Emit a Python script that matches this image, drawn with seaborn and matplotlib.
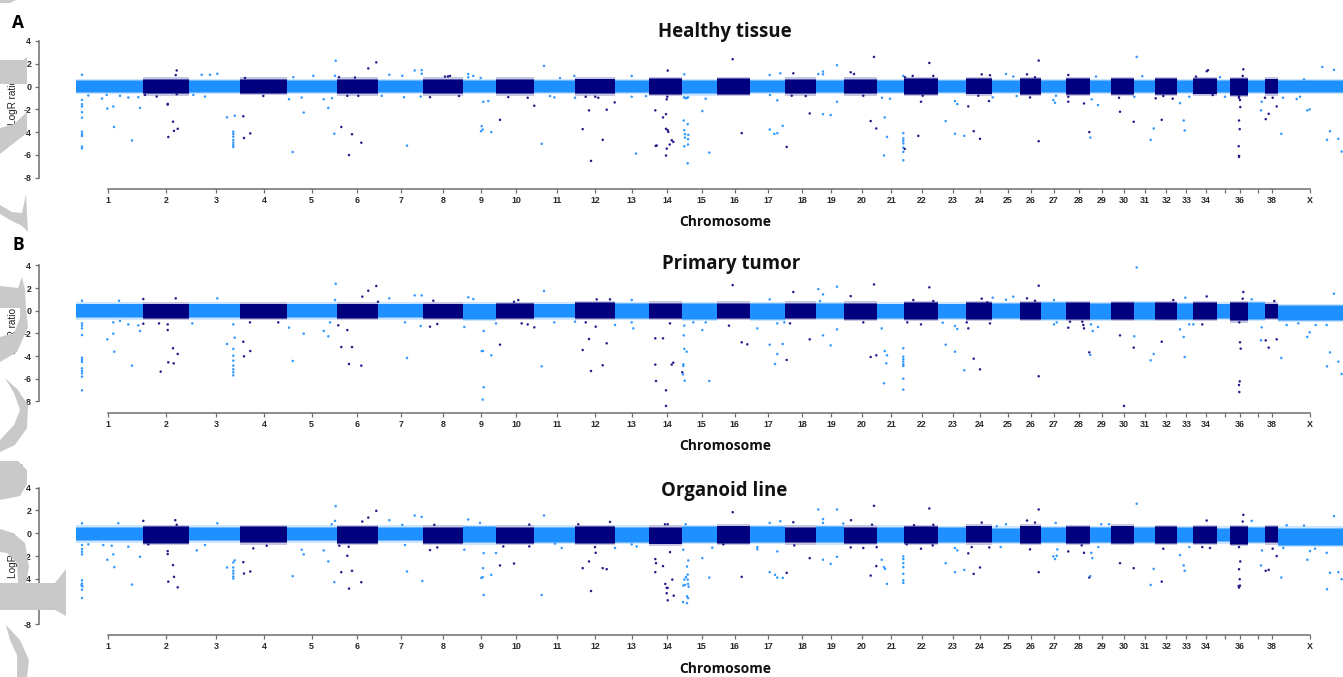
import numpy as np
import pandas as pd
import matplotlib
matplotlib.use("Agg")
import matplotlib.pyplot as plt
from matplotlib.patches import Polygon
import seaborn as sns

W, H = 1343, 677
CHROMS = [str(i) for i in range(1, 39)] + ["X"]
# chromosome boundaries along the genome axis
CHR_EDGES = [75.5,142.7,189.3,239.7,287.3,336.7,378.3,422.7,463.3,496.3,534.3,575,614.7,648.7,682.3,717.3,749.7,784.7,815.7,844.3,876.7,903.6,937.7,966,992,1020,1041.3,1066.3,1089.7,1111.3,1133.7,1155.3,1177,1193.3,1216.7,1230.3,1247.7,1264.7,1277.7,1343]
TICK_POS = [108,166,216,264,311.5,357,401,443,481,516.3,557,595,631.6,667,701.7,734.7,768,802,831.3,861.7,891.3,921.7,953,980,1007.7,1031,1054,1079,1102,1124,1144.7,1166.3,1186.3,1205.7,1224.7,1240,1257.7,1272,1309.7]
TICK_LABELS = [("" if c in ("35","37") else c) for c in CHROMS]

A_top = [.47,.6,.45,.6,.45,.6,.45,.6,.45,.6,.45,.62,.47,.65,.45,.65,.45,.6,.47,.6,.45,.65,.45,.65,.48,.65,.5,.65,.47,.65,.47,.65,.47,.65,.45,.65,.47,.62,.47]
A_bot = [-.47,-.6,-.45,-.55,-.45,-.6,-.45,-.6,-.45,-.6,-.45,-.6,-.47,-.65,-.6,-.65,-.47,-.6,-.47,-.6,-.47,-.65,-.45,-.62,-.47,-.65,-.5,-.65,-.47,-.65,-.47,-.65,-.47,-.62,-.47,-.75,-.47,-.6,-.5]
B_top = [.55,.55,.55,.55,.55,.55,.55,.55,.55,.6,.55,.65,.6,.62,.6,.62,.6,.62,.6,.62,.55,.65,.55,.65,.6,.65,.65,.65,.6,.65,.65,.7,.6,.65,.55,.65,.65,.55,.4]
B_bot = [-.6,-.65,-.6,-.65,-.6,-.65,-.6,-.65,-.7,-.65,-.6,-.65,-.65,-.65,-.75,-.65,-.7,-.65,-.65,-.7,-.65,-.7,-.65,-.75,-.65,-.7,-.7,-.75,-.7,-.7,-.7,-.7,-.7,-.7,-.65,-.85,-.7,-.65,-.8]
C_top = [.5,.55,.5,.55,.5,.55,.5,.5,.55,.5,.5,.55,.5,.5,.55,.6,.55,.5,.55,.5,.5,.55,.45,.6,.4,.6,.45,.55,.45,.6,.45,.55,.45,.55,.4,.55,.45,.55,.4]
C_bot = [-.62,-.85,-.62,-.8,-.62,-.85,-.62,-.85,-.8,-.85,-.75,-.85,-.75,-.9,-.75,-.85,-.75,-.8,-.8,-.85,-.75,-.85,-.75,-.8,-.75,-.85,-.75,-.85,-.75,-.85,-.75,-.85,-.75,-.85,-.7,-.95,-.75,-.8,-1.0]

A_points = [(82,1.03),(82,-1.18),(82,-1.56),(82,-1.76),(82,-2.26),(82,-2.74),(82,-3.97),(82,-4.18),(82,-4.35),(82,-5.29),(82,-5.44),
(107.3,-1.94),(113.3,-1.76),(114,-3.56),(132,-4.74),(140,-1.88),(102,-1.06),(106.7,-.74),(120,-.82),(128.3,-.97),(138.3,-.94),(88.3,-.79),
(167.7,-1.53),(167.7,-1.59),(173,-3.09),(174,-3.9),(177.7,-3.72),(168.3,-4.44),(176.7,1.41),(175.7,1),(156.7,-.88),(176.7,-.68),(145,-.74),
(227,-2.71),(234.7,-2.56),(233.3,-3.97),(233.3,-4.18),(233.3,-4.41),(233.3,-4.71),(233.3,-4.94),(233.3,-5.15),(233.3,-5.32),(201.7,1.03),(210,1.03),(217.3,1.12),(193.3,-.74),(205,-.88),
(243.3,-2.62),(244,-4.53),(250.3,-4.12),(263.3,-.83),(245,.75),
(292.7,-5.76),(303.7,-2.29),(328.3,-1.88),(323.7,-1.12),(332,-1.03),(289,-1.12),(334.3,-4.15),(335.7,2.26),(335,.94),(313.3,.94),(293.3,.82),(301.7,-.97),
(341.3,-3.56),(352,-4.2),(361.3,-4.94),(349,-6.03),(368.3,1.59),(376.3,2.12),(339,.82),(355,.79),(347.3,-.82),(358.3,-.82),
(407,-5.2),(414.7,1.41),(421.7,1.44),(421.7,1.12),(389.3,1.03),(402.3,.94),(404,-.94),(420.7,-.88),(381.7,-.82),(430,-.94),(448,.88),
(445,.87),(450,.93),(459,-.84),(468.3,1.1),(468.3,.81),(473.3,.93),(480.7,.75),(481.7,-3.49),(482.7,-3.78),(481,-3.93),(491.3,-4.01),(483.3,-1.34),(488.3,-1.28),
(500,-2.93),(508.3,-.93),(527.7,-.99),(534.3,-1.69),(544,1.81),(541.7,-5.04),(554.3,-.96),(550,-.84),(574.3,.93),(575,-.99),(560,.75),
(582.7,-3.75),(589,-2.1),(591,-6.54),(602.7,-4.69),(606.7,-2.04),(595.3,-.9),(598.3,-.99),(585.7,-.9),(614.7,-1.4),(636,-5.9),(631.7,.93),(631.7,-.9),(646,-.84),
(667.7,1.4),(655.3,-2.1),(663,-2.72),(666,-2.43),(666,-3.72),(667.7,-3.84),(668.3,-3.99),(655.7,-5.22),(656.7,-5.19),(666.7,-5.46),(669.7,-5.1),(666,-6.07),(671.7,-4.72),(673.3,-4.87),(666.7,-1.13),(667.3,-.9),
(684.3,1.07),(683.7,-2.99),(687.7,-3.31),(684.3,-3.84),(685,-4.19),(688.3,-4.25),(685,-4.49),(688,-4.63),(688,-5.1),(684.3,-5.25),(687.7,-6.75),(702.3,-2.16),(705.7,-1.07),(709.3,-5.81),(684,-.95),(685,-1.0),(686,-1.04),(687,-1.0),(688,-.95),
(732.7,2.4),(741.7,-4.1),(769.7,1.01),(780.3,1.16),(769.7,-3.78),(774.3,-4.16),(777.3,-4.1),(782.7,-3.46),(777.3,-1.22),(770,-.75),
(786.7,-5.31),(793.3,1.16),(809.7,-2.37),(791.7,-.81),(805.7,-.84),(818.3,1.1),(823,1.31),(823,1.07),(823,-2.43),(830.7,-2.51),(837,1.87),(837,-1.34),
(850.7,1.25),(854,1.1),(874,2.6),(870.7,-3.04),(876.3,-3.69),(863.3,-.81),(884.7,-2.72),(887,-4.43),(884,-6.07),(903.3,.93),(882,-.99),(890,-1.07),
(903.3,-4.1),(903.3,-4.57),(903.3,-4.78),(903.3,-5.01),(903.3,-5.37),(903.3,-5.75),(903.3,-6.49),(904.7,-5.49),
(912.7,.93),(905,.81),(929.3,2.07),(918.3,-4.34),(921,-1.34),(922.7,-.81),(933.3,.93),(945.7,-3.04),(955,-4.16),(964.3,-4.34),(955,-1.28),(957.3,-1.54),
(968.3,-1.75),(973.7,-3.93),(980,-4.6),(981.7,1.07),(990,.99),(978.3,-.81),(989,-1.28),(992.7,-.96),(1006,1.1),(1013.3,.87),(1016.7,-.84),
(1038.7,2.28),(1038.7,-4.81),(1027,1.07),(1030,-.96),(1035,.81),(1053.3,-1.19),(1055,-1.43),(1056,-.81),(1068.3,1.01),(1068.3,-.9),(1068.3,-1.34),(1084,-1.49),
(1089.3,-4.01),(1090.3,-4.49),(1091.7,-1.13),(1098,-1.63),(1096,.87),(1120,-2.22),(1119,-.99),(1133.7,-3.1),(1136.7,2.6),(1142.3,.9),(1150.7,-4.69),(1153.7,-3.69),(1155.7,-1.04),(1134.3,-.9),
(1161.7,-2.93),(1172.7,-1.07),(1163.3,-.84),(1183.7,-2.99),(1184.7,-3.87),(1180,-1.46),(1189.3,-.9),(1206.7,1.34),(1208,1.43),(1196,.87),(1212.7,-.75),(1220,.81),(1225,-.9),
(1243.3,1.51),(1242.7,.93),(1240,-1.19),(1240.3,-1.81),(1239,-2.99),(1239.7,-3.75),(1238.7,-5.25),(1239,-6.1),(1239,-6.19),(1239,-.85),(1239,-1.0),
(1261.7,-1.34),(1261,-2.1),(1265,-.99),(1265.7,-2.87),(1268.7,-2.4),(1272.7,-.99),(1276.7,-1.75),(1281.3,-4.16),(1283,-.99),(1296.7,-1.1),(1300,-.9),(1307.3,-2.1),(1309.7,-2.01),(1322.3,1.72),(1334,1.46),(1327,-4.69),(1330,-3.93),(1338.3,-4.6),(1341.7,-5.72),(1304,.63)]

B_points = [(82,.88),(82,-1.12),(82,-1.32),(82,-1.56),(82,-2.15),(82,-4.15),(82,-4.35),(82,-4.53),(82,-5.09),(82,-5.32),(82,-5.53),(82,-5.82),(82,-7.03),
(107.3,-2.53),(113.3,-2.03),(114.3,-3.62),(132,-4.85),(140,-1.79),(138.3,-1.29),(128.3,-1.21),(143.3,-1.15),(119,.88),(143.3,1.03),(113.3,-1.03),(120,-.91),
(167.7,-1.21),(167.7,-1.71),(159,-1.12),(173,-3.32),(177.7,-3.82),(168.3,-4.56),(173.7,-4.65),(160.7,-5.38),(175.7,1.09),
(227,-2.94),(234.7,-2.38),(217.3,1.09),(192.3,-1.12),(233.3,-1.21),(233.3,-3.38),(233.3,-3.97),(233.3,-4.41),(233.3,-4.85),(233.3,-5.18),(233.3,-5.44),(233.3,-5.71),
(243.3,-2.74),(250.3,-3.56),(244,-4.03),(278.3,-1.03),(250,-1.03),
(292.7,-4.44),(303.7,-2.03),(323.7,-1.79),(328.3,-2.26),(289,-1.5),(335.7,2.38),(335,.94),(330,-1.03),
(341.3,-3.21),(352,-3.21),(349,-4.71),(361.3,-4.85),(347.3,-1.71),(338.3,-1.29),(362.3,1.24),(368.3,1.76),(376.3,2.18),(378,.79),
(407,-4.18),(414.7,1.35),(421.7,1.35),(389.3,1.09),(420.7,-1.35),(405,-1.03),(430,-1.41),(437.3,-1.18),(433.3,.88),
(468.3,1.18),(473.3,1.03),(464.3,-1.44),(483.7,-1.79),(481.7,-3.56),(483,-3.56),(491.3,-3.94),(483.7,-6.76),(482.7,-7.85),(496,-1.12),
(500,-3.0),(518.3,.94),(514,.79),(521.7,-1.12),(527.7,-1.21),(534.3,-1.47),(544,1.74),(541.7,-4.91),(554.3,-1.03),(575,-.97),
(582.7,-3.47),(589,-2.5),(595.7,-1.41),(591,-5.32),(602.7,-4.82),(606.7,-2.88),(596.7,1.0),(610,1.0),(615,-1.26),(585.7,-1.03),(631.7,.94),(631.7,-1.03),(633.3,-1.56),
(655.3,-2.44),(663,-2.44),(655.3,-4.76),(656,-6.21),(666,-7.03),(666,-8.41),(671.7,-4.76),(673.3,-4.59),(670,-1.12),
(683.7,-2.18),(684.3,-3.38),(686.7,-3.62),(683.3,-4.74),(683.3,-4.88),(682.3,-5.44),(683,-5.62),(684.7,-6.18),(709.3,-6.21),(702.3,-1.71),(705.7,-1.03),(693.3,-1.03),(684.3,-1.32),
(732.7,2.26),(741.7,-2.79),(747.3,-2.97),(729,-1.32),(769.7,1.0),(757.3,-1.56),(769.7,-3.0),(777.3,-3.82),(775,-4.71),(782.7,-2.94),(777.3,-1.12),(784.3,-1.03),
(786.7,-4.35),(793.3,1.65),(809.7,-2.53),(790,-1.12),(818.3,1.91),(823,1.44),(820,.85),(823,-2.18),(830.7,-3.06),(837,2.12),(837,-1.65),
(850.7,1.29),(874,2.32),(870.7,-4.09),(876.3,-3.94),(863.3,-1.03),(881.7,-1.56),(884.7,-3.56),(887,-3.94),(886.3,-4.65),(884,-6.41),
(903.3,-3.32),(903.3,-4.06),(903.3,-4.29),(903.3,-4.5),(903.3,-4.74),(903.3,-4.88),(903.3,-6.0),(903.3,-6.97),
(929.3,2.06),(907.3,-1.03),(921,-1.21),(913.3,.94),(933.3,.85),(945.7,-3.0),(955,-3.62),(964.3,-5.26),(957.3,-1.62),(942.7,-1.06),(955,-1.35),
(968.3,-1.56),(973.7,-4.24),(980,-5.18),(981.7,1.06),(990,-1.12),(966.7,-1.03),(987.3,.74),(992.7,1.15),(1006,.97),(1013.3,1.24),
(1038.7,2.21),(1038.7,-5.79),(1027,1.09),(1035,.88),(1054,.94),(1054,-1.21),(1056.7,-1.03),(1068.3,-1.5),(1084,-1.56),(1082.3,-.97),(1070,-.97),(1083.3,-1.26),
(1089.3,-3.68),(1090.3,-3.91),(1092.7,-1.79),(1098,-1.44),(1091,-1.21),(1120,-2.18),(1124,-8.41),(1133.7,-3.26),(1134.3,-2.26),(1136.7,3.82),(1150.7,-4.38),(1153.7,-3.82),
(1161.7,-2.74),(1173.3,.94),(1183.7,-2.32),(1184.7,-4.09),(1180,-1.65),(1185.3,1.15),(1189.3,-1.21),(1193.3,-1.21),(1206.7,1.26),(1202.3,-1.21),
(1243.3,1.65),(1242.7,1.06),(1240,-2.79),(1240.7,-3.35),(1239.7,-6.24),(1239,-6.56),(1239.3,-7.18),(1239.3,-1.03),(1251.7,1.0),(1261.7,-1.47),(1261,-2.62),(1265.7,-2.62),
(1268.7,-3.26),(1276.7,-2.53),(1274.3,.85),(1281.3,-4.18),(1286.7,-1.26),(1307.3,-2.32),(1309.7,-1.91),(1315.7,-1.26),(1327,-4.91),(1330,-3.68),(1338.3,-4.5),(1341.7,-5.59),(1334,1.5),(1326.7,-1.26),(1298.3,-1.12)]

C_points = [(82,.88),(82,-1.03),(82,-1.38),(82,-1.62),(82,-1.85),(82,-4.12),(82,-4.41),(81.5,-4.56),(82.5,-4.65),(82,-4.94),(82,-5.68),
(107.3,-2.32),(113.3,-1.85),(114.3,-2.97),(132,-4.5),(140,-2.06),(118.3,.88),(143.3,1.09),(128.3,-1.18),(103.3,-1.03),(111.7,-1.09),(88.3,-.97),
(167.7,-1.56),(167.7,-1.82),(173,-2.79),(174,-3.82),(168.3,-4.24),(177.7,-4.74),(175.3,1.15),(176.7,.74),(148.3,-.98),
(227,-3.0),(234.7,-2.38),(233.3,-2.56),(233.3,-3.0),(233.3,-3.29),(233.3,-3.53),(233.3,-3.79),(233.3,-3.97),(217.3,.88),(196.7,-1.5),(205,-1.03),
(243.3,-2.53),(244,-3.53),(250.3,-3.35),(253.3,-1.32),(266.7,-1.09),
(292.7,-3.76),(303.7,-1.85),(301.7,-1.44),(323.7,-1.5),(328.3,-2.47),(334.3,-4.29),(335.7,2.38),(335,1.09),(331.7,.79),
(341.3,-3.41),(352,-3.29),(361.3,-4.29),(349,-4.85),(347.3,-1.97),(348.7,-1.18),(339.3,-1.09),(362.3,1.03),(368.3,1.38),(376.3,1.97),
(407,-3.35),(422.3,-4.18),(414.7,1.56),(421.7,1.44),(389.3,1.15),(402.3,.74),(405,-1.03),(430,-1.47),(437.3,-1.24),(434.3,.74),
(468.3,1.21),(464.3,-1.44),(480,.91),(483.7,-1.74),(483,-3.06),(482.7,-3.85),(481.3,-3.91),(491.3,-3.65),(483.7,-5.41),(496,-1.74),
(500,-2.82),(514,-2.65),(503.3,-1.15),(529.3,-1.15),(529.3,.76),(544,1.56),(541.7,-5.41),(561.7,-1.29),(555,-.91),
(578.3,.79),(582.7,-3.06),(589,-2.47),(595.7,-1.71),(591,-5.06),(602.7,-3.06),(606.7,-3.15),(610,1.0),(615,-1.29),(595,-1.21),(631.7,-.97),(636.7,-1.15),
(655.3,-2.26),(656,-2.62),(655.3,-3.41),(663,-2.88),(665.3,-4.44),(666.7,-4.79),(667.7,-4.79),(666.7,-5.26),(667.7,-5.88),(672.3,-4.06),(673.7,-5.47),(670,-1.65),(665,.79),(667.7,.79),
(688.3,-2.38),(687,-2.91),(687.7,-3.62),(686,-3.85),(684.3,-4.06),(687.7,-4.06),(683.3,-4.59),(685,-4.53),(688,-4.44),(688.7,-4.68),(687,-5.53),(688,-5.68),(683,-6.03),(687,-6.12),(702.3,-2.18),(709.3,-3.88),(683.3,-1.44),(685.7,.79),(712.3,-1.26),
(732.7,1.85),(741.7,-3.82),(723.3,-.97),(769.7,.91),(757.3,-1.21),(757.3,-1.41),(769.7,-3.41),(775,-3.65),(777.3,-3.88),(782.7,-3.91),(777.3,-1.59),(780.3,1.06),
(786.7,-3.47),(793.3,.97),(809.7,-2.18),(794.3,-1.06),(818.3,2.09),(823,1.24),(823,.91),(823,-2.32),(830.7,-2.68),(837,2.09),(837,-2.06),(843.3,.85),
(851,1.15),(874,2.41),(872,.76),(870.7,-3.71),(876.3,-2.88),(850.7,-1.24),(863.3,-1.29),(876.7,-1.21),(881.7,-2.32),(884,-2.97),(885,-3.12),(887,-4.44),
(903.3,-2.03),(903.3,-2.26),(903.3,-2.62),(903.3,-2.97),(903.3,-3.56),(903.3,-4.12),(903.3,-4.35),
(929.3,2.18),(933.3,.74),(914,.71),(921,-1.35),(932.7,-1.06),(906.7,-.97),(945.7,-2.62),(955,-3.41),(964.3,-3.21),(957.3,-1.5),(955,-1.29),
(968.3,-1.76),(971.7,-1.21),(980,-3.0),(973.7,-3.56),(981.7,.94),(989.3,-1.24),(1000.7,-1.21),(1006,.79),(996.7,.62),
(1038.7,2.09),(1038.7,-3.41),(1027,1.12),(1035,.94),(1030,-1.41),(1055.7,.91),(1053.3,-2.03),(1055,-2.26),(1056.7,-1.97),(1057.3,-1.41),
(1068.3,-1.59),(1084,-1.71),(1081.7,-1.06),(1089.3,-3.88),(1090.3,-3.76),(1091.3,-1.71),(1092.3,-2.18),(1101.3,.79),(1098.3,-1.21),(1109,.79),
(1120,-2.62),(1133.7,-3.06),(1136.7,2.59),(1150.7,-4.53),(1153.7,-3.12),(1161.7,-4.24),(1163.3,-1.35),
(1183.7,-2.82),(1184.7,-3.29),(1180,-1.91),(1189.3,-1.21),(1206.7,1.12),(1202.3,-1.21),(1210,-1.29),
(1243.3,1.62),(1242.7,1.03),(1251.7,1.09),(1240.3,-2.47),(1239,-3.15),(1239.7,-4.03),(1238.7,-4.62),(1240,-4.59),(1239,-4.76),(1239,-1.21),
(1261,-2.82),(1262,-1.5),(1265.7,-3.29),(1268.7,-3.21),(1272.7,-1.35),(1276.7,-2.0),(1281.3,-3.88),(1286.7,.71),(1304,.68),(1307.3,-2.32),(1310,-1.56),(1326.7,-1.71),(1330,-3.47),(1327,-4.91),(1338.3,-3.41),(1341.7,-4.03),(1334,1.5),(1315,-1.35),(1283.3,-1.29)]

TITLES = ["Healthy tissue", "Primary tumor", "Organoid line"]
PANEL_LETTERS = ["A", "B", "C"]

LIGHT, DARK = "#1e90ff", "#00007f"
sns.set_theme(style="white")
plt.rcParams["font.family"] = ["Liberation Sans", "DejaVu Sans"]

fig = plt.figure(figsize=(W / 100, H / 100), dpi=100, facecolor="white")


def px_text(x, y, s, **kw):
    fig.text(x / W, 1 - y / H, s, ha=kw.pop("ha", "center"), va="center", **kw)


layout = [  # top px (y=4), zero px, axis-line px
    (41.0, 86.5, 189.0),
    (265.4, 310.7, 412.7),
    (487.7, 533.3, 635.0),
]
panels = [(A_points, A_top, A_bot), (B_points, B_top, B_bot), (C_points, C_top, C_bot)]
title_xy = [(725, 32), (731, 264), (724, 491)]
label_y = [222, 446, 669]
letter_y = [23, 245, 472]
ylab_y = [102, 331, 555]
edges = np.array(CHR_EDGES)

for i, ((pts, top, bot), (ytop, y0, ybot)) in enumerate(zip(panels, layout)):
    scale = (y0 - ytop) / 4
    ax = fig.add_axes([0, 1 - ybot / H, 1, (ybot - ytop) / H])
    ax.patch.set_alpha(0)
    ax.set_xlim(0, W)
    ax.set_ylim((y0 - ybot) / scale, 4)
    for k in range(len(CHROMS)):
        col = DARK if k % 2 else LIGHT
        xs = edges[k:k + 2]
        ax.fill_between(xs, top[k] + .2, bot[k] - .2, color=col, alpha=.22, lw=0, zorder=1)
        ax.fill_between(xs, top[k] + .08, bot[k] - .08, color=col, alpha=.55, lw=0, zorder=1.5)
        ax.fill_between(xs, top[k], bot[k], color=col, lw=0, zorder=2)
    df = pd.DataFrame(pts, columns=["pos", "logr"])
    df["chrom"] = np.clip(np.searchsorted(edges, df["pos"]) - 1, 0, len(CHROMS) - 1)
    df["shade"] = np.where(df["chrom"] % 2 == 1, "dark", "light")
    sns.scatterplot(data=df, x="pos", y="logr", hue="shade",
                    palette={"light": "#2f98ff", "dark": "#241a8a"},
                    s=3.2, linewidth=0, legend=False, ax=ax, zorder=3, clip_on=True)
    ax.set_xlabel("")
    ax.set_ylabel("")
    for s in ("top", "right"):
        ax.spines[s].set_visible(False)
    ax.spines["left"].set_position(("data", 39))
    ax.spines["left"].set_bounds(-8, 4)
    ax.spines["bottom"].set_bounds(TICK_POS[0], TICK_POS[-1])
    for s in ("left", "bottom"):
        ax.spines[s].set_color("#6e6e6e")
        ax.spines[s].set_linewidth(1.1)
    ax.set_yticks(range(-8, 5, 2))
    ax.set_yticklabels([str(v) for v in range(-8, 5, 2)])
    ax.set_xticks(TICK_POS)
    ax.set_xticklabels(TICK_LABELS)
    ax.tick_params(axis="both", direction="out", length=2.6, width=.9, color="#6e6e6e",
                   labelsize=6.4, labelcolor="#2a2a2a", left=True, bottom=True)
    ax.tick_params(axis="x", pad=2.5)
    ax.tick_params(axis="y", pad=3)
    for t in ax.get_xticklabels() + ax.get_yticklabels():
        t.set_fontweight("bold")
    px_text(*title_xy[i], TITLES[i], family="Open Sans", fontweight="bold", fontsize=13.4, color="#111111")
    px_text(725, label_y[i], "Chromosome", family="Open Sans", fontweight="bold", fontsize=10, color="#111111")
    px_text(18, letter_y[i], PANEL_LETTERS[i], family="Open Sans", fontweight="bold", fontsize=12.5, color="black")
    px_text(13, ylab_y[i], "LogR ratio", rotation=90, fontsize=7.2, color="#222222")

# grey watermark fragments along the left edge, lying over the text
wm = fig.add_axes([0, 0, 1, 1], zorder=20)
wm.set_xlim(0, W)
wm.set_ylim(H, 0)
wm.axis("off")
wm.patch.set_alpha(0)
GREY = "#c9c9c9"
watermark = [
    [(0, 0), (16, 0), (10, 3), (0, 3)],
    [(0, 60), (24, 60), (27, 57), (27, 84), (0, 84)],
    [(0, 128), (14, 124), (27, 112), (27, 133), (14, 143), (0, 154)],
    [(0, 205), (12, 212), (22, 213), (26, 194), (28, 232), (22, 226), (10, 220), (0, 214)],
    [(0, 286), (18, 288), (22, 277), (25, 290), (26, 308), (28, 327), (17, 352), (0, 362), (0, 337), (14, 333), (20, 318), (20, 308), (0, 308)],
    [(5, 378), (18, 390), (28, 405), (27, 428), (15, 445), (0, 452), (0, 440), (14, 425), (20, 410), (14, 393)],
    [(0, 461), (18, 461), (27, 470), (27, 484), (20, 496), (0, 500)],
    [(0, 529), (13, 533), (25, 543), (29, 567), (26, 583), (18, 583), (17, 563), (7, 553), (0, 552)],
    [(0, 583), (55, 583), (66, 569), (66, 616), (55, 610), (0, 610)],
    [(6, 625), (20, 640), (29, 660), (27, 677), (17, 677), (17, 655), (10, 640)],
]
for poly in watermark:
    wm.add_patch(Polygon(poly, closed=True, facecolor=GREY, edgecolor="none"))

fig.savefig("out.png", dpi=100)
